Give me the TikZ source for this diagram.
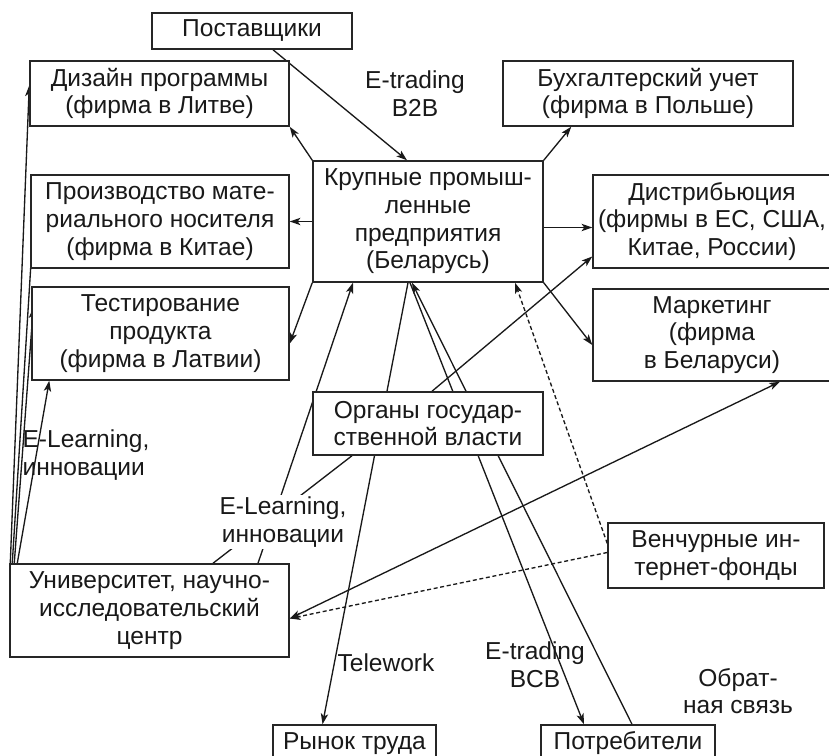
\documentclass[tikz,border=0pt]{standalone}
\usepackage{fontspec}
\setmainfont{Liberation Sans}
\usetikzlibrary{arrows.meta,calc}
\pgfdeclarelayer{background}
\pgfsetlayers{background,main}
\begin{document}
\begin{tikzpicture}[x=0.75pt,y=-0.75pt,
  txt/.style={text=black!90, font=\fontsize{18.4}{20.8}\selectfont},
  box/.style={txt, draw=black!85, line width=1.1pt, fill=white, align=center, inner sep=0pt},
  lbl/.style={txt, align=center, inner sep=1pt},
  conn/.style={line width=1pt, draw=black!90},
  tip/.tip={Stealth[length=8pt,width=5.5pt,inset=2pt]},
  arr/.style={conn, -tip},
  dashedline/.style={dash pattern=on 3pt off 2pt}
]
\useasboundingbox (0,0) rectangle (829,756);

% boxes
\node[box, minimum width=150pt,   minimum height=27pt]    (post)   at (252,31)     {Поставщики};
\node[box, minimum width=194.25pt,minimum height=48.75pt] (diz)    at (159.5,93.5) {Дизайн программы\\(фирма в Литве)};
\node[box, minimum width=217.5pt, minimum height=48.75pt] (buh)    at (648,93.5)   {Бухгалтерский учет\\(фирма в Польше)};
\node[box, minimum width=172.5pt, minimum height=90.75pt] (krup)   at (428,221.5)  {Крупные промыш-\\ленные\\предприятия\\(Беларусь)};
\node[box, minimum width=193.5pt, minimum height=69.75pt] (proizv) at (160,221.5)  {Производство мате-\\риального носителя\\(фирма в Китае)};
\node[box, minimum width=192.75pt,minimum height=69.75pt] (test)   at (160.5,333.5){Тестирование\\продукта\\(фирма в Латвии)};
\node[box, minimum width=178.5pt, minimum height=69.75pt] (distr)  at (712,221.5)  {Дистрибьюция\\(фирмы в ЕС, США,\\Китае, России)};
\node[box, minimum width=178.5pt, minimum height=69pt]    (mark)   at (712,335)    {Маркетинг\\(фирма\\в Беларуси)};
\node[box, minimum width=172.5pt, minimum height=47.25pt] (organy) at (428,423.5)  {Органы государ-\\ственной власти};
\node[box, minimum width=209.25pt,minimum height=69.75pt] (univ)   at (149.5,610.5){Университет, научно-\\исследовательский\\центр};
\node[box, minimum width=162pt,   minimum height=48.75pt] (vench)  at (716,555.5)  {Венчурные ин-\\тернет-фонды};
\node[box, minimum width=122.25pt,minimum height=27.75pt] (rynok)  at (354.5,743.5){Рынок труда};
\node[box, minimum width=130.5pt, minimum height=27.75pt] (potr)   at (628,743.5)  {Потребители};

% labels
\node[lbl] (lb2b) at (415,93.5) {E-trading\\B2B};
\node[lbl, align=left, anchor=west] (lel1) at (21,455) {E-Learning,\\инновации};
\node[lbl, fill=white] (lel2) at (283,522) {E-Learning,\\инновации};
\node[lbl] (ltw) at (386,663) {Telework};
\node[lbl] (lbcb) at (535,665) {E-trading\\BCB};
\node[lbl] (lfb) at (738,691) {Обрат-\\ная связь};

\begin{pgfonlayer}{background}
\draw[arr] ($(post.south)+(21,0)$) -- ($(krup.north)+(-21,0)$);
\draw[arr] (krup.north west) -- (diz.south east);
\draw[arr] (krup.north east) -- ($(buh.south west)+(69,0)$);
\draw[arr] (krup.west) -- (proizv.east);
\draw[arr] ($(krup.east)+(0,6)$) -- ($(distr.west)+(0,6)$);
\draw[arr] (krup.south east) -- ($(mark.west)+(0,10)$);
\draw[arr] (krup.south west) -- ($(test.east)+(0,10)$);
\draw[arr] ($(univ.north)+(108.5,0)$) -- ($(krup.south)+(-75,0)$);
\draw[conn] ($(univ.north)+(63.5,0)$) -- ($(organy.south)+(-76,0)$);
\draw[arr] ($(krup.south)+(-20,0)$) -- ($(rynok.north)+(-32,0)$);
\draw[arr] ($(krup.south)+(-18,0)$) -- ($(potr.north)+(-44,0)$);
\draw[arr] ($(potr.north)+(4,0)$) -- ($(krup.south)+(-16,0)$);
\draw[arr] ($(organy.north)+(4,0)$) -- ($(distr.west)+(0,35)$);
\draw[arr, dashedline] ($(vench.west)+(0,-12)$) -- ($(krup.south)+(87,0)$);
\draw[arr, dashedline] ($(vench.west)+(0,-3)$) -- ($(univ.east)+(0,8)$);
\draw[conn, tip-tip] ($(univ.east)+(0,8)$) -- ($(mark.south)+(68,0)$);
\draw[arr] ($(univ.north west)+(1,0)$) -- ($(diz.west)+(0,-8)$);
\draw[arr] ($(univ.north west)+(3,0)$) -- ($(proizv.west)+(4,-11)$);
\draw[arr] ($(univ.north west)+(5,0)$) -- ($(test.west)+(2,-26)$);
\draw[arr] ($(univ.north west)+(8,0)$) -- ($(test.south west)+(18,0)$);
\end{pgfonlayer}
\end{tikzpicture}
\end{document}
